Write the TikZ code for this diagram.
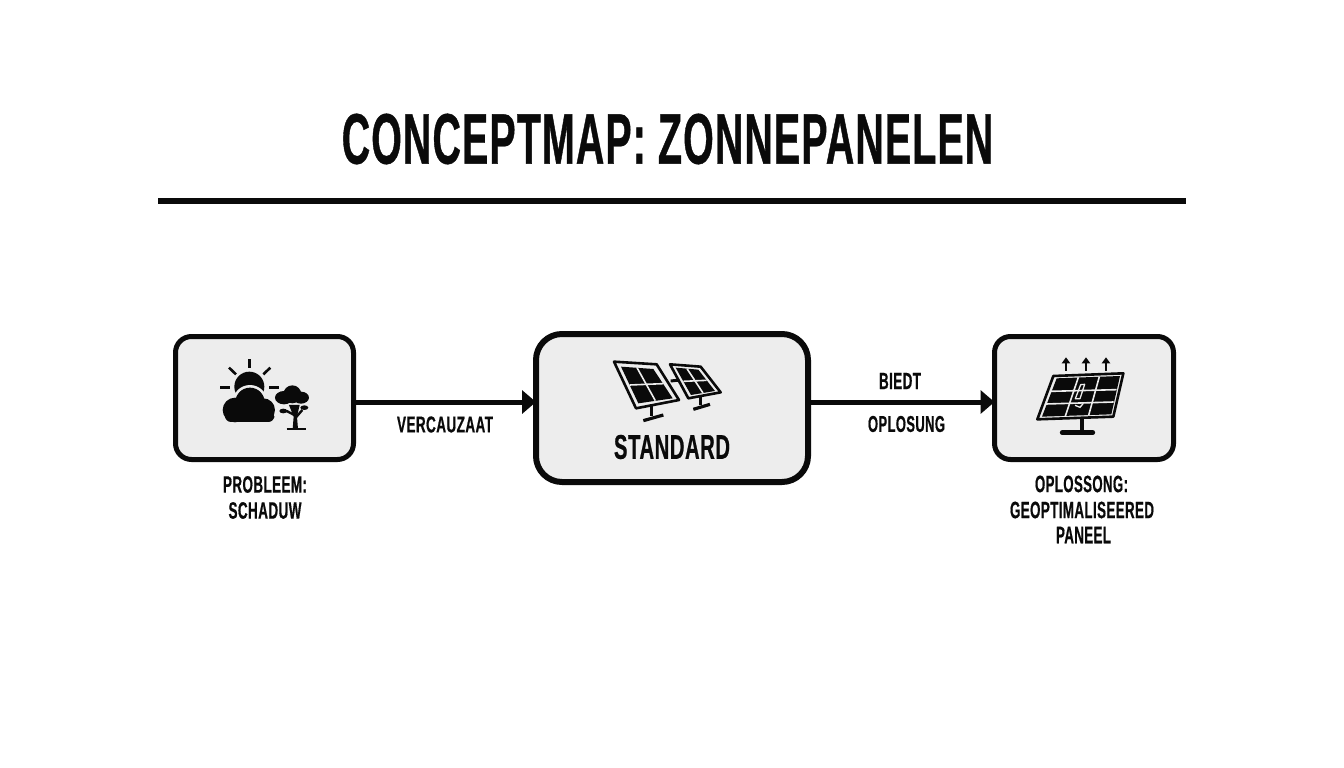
\documentclass[tikz,border=0pt]{standalone}
\usepackage{fontspec}
\usepackage{graphicx}
\usetikzlibrary{arrows.meta}
\newfontfamily\condfont[FakeStretch=0.5,FakeBold=0.5,LetterSpace=1.5]{Liberation Sans Bold}
\newcommand{\fitted}[3]{\resizebox{#1pt}{#2pt}{\condfont #3}}
\definecolor{ink}{HTML}{0A0A0A}
\definecolor{panelfill}{HTML}{EDEDED}
\tikzset{
  box/.style={draw=ink,fill=panelfill,line width=5pt,rounded corners=16pt,inner sep=0pt,outer sep=0pt},
  bigbox/.style={box,line width=6pt,rounded corners=26pt},
  lbl/.style={inner sep=0pt,outer sep=0pt,text=ink},
  conn/.style={draw=ink,line width=5pt,-{Triangle[length=14pt,width=23pt]}},
  ray/.style={draw=ink,line width=2.6pt},
  panelline/.style={draw=panelfill,line width=1.6pt},
  frame/.style={draw=ink,fill=panelfill,line width=2.6pt,line join=round},
  strut/.style={draw=ink,line width=3.2pt}
}
\begin{document}
\begin{tikzpicture}[x=1pt,y=-1pt]
\useasboundingbox (0,0) rectangle (1344,768);
\fill[white] (0,0) rectangle (1344,768);
% title and rule
\node[lbl] (title) at (667.5,139) {\fitted{651}{50}{CONCEPTMAP: ZONNEPANELEN}};
\coordinate (ruleL) at (158,200.5);
\coordinate (ruleR) at (1186,200.5);
\draw[ink,line width=6pt] (ruleL) -- (ruleR);
% boxes
\node[box,minimum width=178pt,minimum height=123pt] (prob) at (264.5,398) {};
\node[bigbox,minimum width=272pt,minimum height=148pt] (std) at (672,408) {};
\node[box,minimum width=179pt,minimum height=123pt] (opl) at (1084,398) {};
% connectors
\coordinate (lev) at (0,402);
\draw[conn] (prob.east |- lev) -- (std.west |- lev);
\draw[conn] (std.east |- lev) -- (opl.west |- lev);
% labels
\node[lbl] (l1) at (265,484.5) {\fitted{84}{16.5}{PROBLEEM:}};
\node[lbl] (l2) at (265,510.5) {\fitted{73}{16.5}{SCHADUW}};
\node[lbl] (l3) at (445,424.5) {\fitted{96}{16}{VERCAUZAAT}};
\node[lbl] (l4) at (900,381) {\fitted{42}{16}{BIEDT}};
\node[lbl] (l5) at (906.5,424) {\fitted{77}{16}{OPLOSUNG}};
\node[lbl] (l6) at (672,447) {\fitted{116}{24}{STANDARD}};
\node[lbl] (l7) at (1081.5,484) {\fitted{93}{16.5}{OPLOSSONG:}};
\node[lbl] (l8) at (1082,510) {\fitted{144}{16.5}{GEOPTIMALISEERED}};
\node[lbl] (l9) at (1083.5,535) {\fitted{55}{16.5}{PANEEL}};
% sun, cloud, tree icon
\begin{scope}[shift={(215,355)},x=0.3333pt,y=-0.3333pt]
  \fill[ink] (103,95) circle[radius=45];
  \foreach \a/\b/\c/\d in {103/12/103/38,42/38/63/58,166/38/145/58,15/97/45/97,163/97/193/97}
    \draw[ray] (\a,\b) -- (\c,\d);
  \fill[panelfill] (60,165) circle[radius=44] (105,142) circle[radius=52] (145,165) circle[radius=42];
  \fill[ink] (60,165) circle[radius=37] (105,142) circle[radius=44] (145,165) circle[radius=35];
  \fill[ink,rounded corners=6pt] (30,170) rectangle (178,201);
  \fill[ink] (207,128) ellipse[x radius=27,y radius=20] (232,118) circle[radius=27] (258,128) ellipse[x radius=24,y radius=18];
  \fill[ink] (233,222) -- (236,185) -- (222,150) -- (254,150) -- (246,185) -- (249,222) -- cycle;
  \draw[ink,line width=2.4pt] (242,188) -- (262,165) (238,180) -- (215,168);
  \fill[ink] (205,168) ellipse[x radius=12,y radius=7] (268,158) ellipse[x radius=12,y radius=7];
  \draw[ink,line width=2.6pt] (215,222) -- (272,222);
\end{scope}
% two standard panels
\begin{scope}[shift={(610,355)},x=0.3333pt,y=-0.3333pt]
  \draw[strut,line width=3pt] (182,78) -- (210,75);
  \draw[strut] (125,150) -- (125,182);
  \draw[strut] (100,197) -- (160,180);
  \draw[strut] (272,125) -- (272,150);
  \draw[strut] (250,163) -- (300,148);
  \draw[frame] (12,20) -- (140,28) -- (207,135) -- (78,160) -- cycle;
  \fill[ink] (33,35) -- (130,42) -- (188,130) -- (85,145) -- cycle;
  \draw[panelline] (81,38) -- (136,137);
  \draw[panelline] (59,90) -- (159,86);
  \draw[frame] (180,28) -- (272,35) -- (332,112) -- (235,130) -- cycle;
  \fill[ink] (197,38) -- (265,44) -- (315,108) -- (243,120) -- cycle;
  \draw[panelline] (231,41) -- (279,114);
  \draw[panelline] (220,79) -- (290,76);
\end{scope}
% optimised panel
\begin{scope}[shift={(1030,350)},x=0.3333pt,y=-0.3333pt]
  \foreach \px in {108,168,228}{
    \draw[ink,line width=2.6pt] (\px,62) -- (\px,36);
    \fill[ink] (\px,22) -- (\px+13,40) -- (\px-13,40) -- cycle;
  }
  \draw[strut,line width=4pt] (155,205) -- (155,245);
  \draw[ink,line width=5pt,line cap=round] (97,248) -- (188,248);
  \draw[frame] (70,78) -- (280,70) -- (250,200) -- (22,208) -- cycle;
  \fill[ink] (80,85) -- (270,78) -- (244,193) -- (36,200) -- cycle;
  \draw[panelline] (145,82) -- (106,198);
  \draw[panelline] (208,80) -- (176,196);
  \draw[panelline] (62,124) -- (260,119);
  \draw[panelline] (48,162) -- (251,156);
  \draw[panelfill,line width=1.3pt,line join=round] (152,104) -- (164,103) -- (150,146) -- (136,146) -- cycle;
  \draw[panelfill,line width=1.3pt] (135,166) -- (150,172) -- (160,160);
\end{scope}
\end{tikzpicture}
\end{document}
